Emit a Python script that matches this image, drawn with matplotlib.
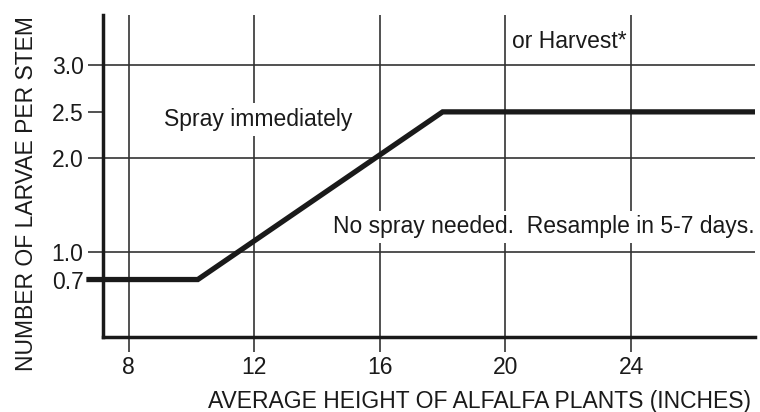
import matplotlib
matplotlib.use("Agg")
import matplotlib.pyplot as plt

plt.rcParams['font.family'] = ['Liberation Sans', 'DejaVu Sans']

# Data
threshold_x = [6.65, 10.2, 18.0, 27.95]
threshold_y = [0.7, 0.7, 2.5, 2.5]
x_ticks = [8, 12, 16, 20, 24]
x_tick_labels = ["8", "12", "16", "20", "24"]
y_grid_ticks = [1.0, 2.0, 3.0]
y_grid_labels = ["1.0", "2.0", "3.0"]
y_extra_ticks = [0.7, 2.5]
y_extra_labels = ["0.7", "2.5"]

FS = 16.5
ink = '#1a1a1a'
grid_c = '#333333'

fig = plt.figure(figsize=(7.6, 4.12), dpi=100)
ax = fig.add_axes([103/760, 1 - 337/412, 652/760, 322/412])
ax.set_xlim(7.18, 27.95)
ax.set_ylim(0.083, 3.54)

for s in ['top', 'right']:
    ax.spines[s].set_visible(False)
for s in ['left', 'bottom']:
    ax.spines[s].set_linewidth(2.5)
    ax.spines[s].set_color(ink)
    ax.spines[s].set_zorder(5)

ax.set_xticks(x_ticks)
ax.set_xticklabels(x_tick_labels)
ax.set_yticks(y_grid_ticks)
ax.set_yticklabels(y_grid_labels)
ax.set_yticks(y_extra_ticks, minor=True)
ax.set_yticklabels(y_extra_labels, minor=True)
ax.tick_params(axis='both', which='both', length=11, width=1.2, color=grid_c,
               labelsize=FS, labelcolor=ink, pad=3)
ax.xaxis.grid(True, color=grid_c, linewidth=1.2)
ax.yaxis.grid(True, which='major', color=grid_c, linewidth=1.2)
ax.yaxis.grid(False, which='minor')
ax.set_axisbelow(True)

ax.plot(threshold_x, threshold_y, color=ink, linewidth=3.8,
        solid_capstyle='butt', solid_joinstyle='miter', clip_on=False, zorder=6)

box = dict(facecolor='white', edgecolor='none', boxstyle='square,pad=0.2')
ax.text(12.12, 2.349, "Spray immediately", ha='center', va='baseline',
        fontsize=FS, color=ink, bbox=box, zorder=4)
ax.text(21.23, 1.196, "No spray needed.  Resample in 5-7 days.", ha='center',
        va='baseline', fontsize=FS, color=ink, bbox=box, zorder=4)
ax.text(22.05, 3.186, "or Harvest*", ha='center', va='baseline',
        fontsize=FS, color=ink, zorder=4)

ax.set_xlabel("AVERAGE HEIGHT OF ALFALFA PLANTS (INCHES)", fontsize=FS, color=ink)
ax.set_ylabel("NUMBER OF LARVAE PER STEM", fontsize=FS, color=ink)
ax.xaxis.set_label_coords(0.578, -0.165)
ax.yaxis.label.set_va('center')
ax.yaxis.set_label_coords(-0.118, 0.444)

fig.savefig("out.png", dpi=100)
